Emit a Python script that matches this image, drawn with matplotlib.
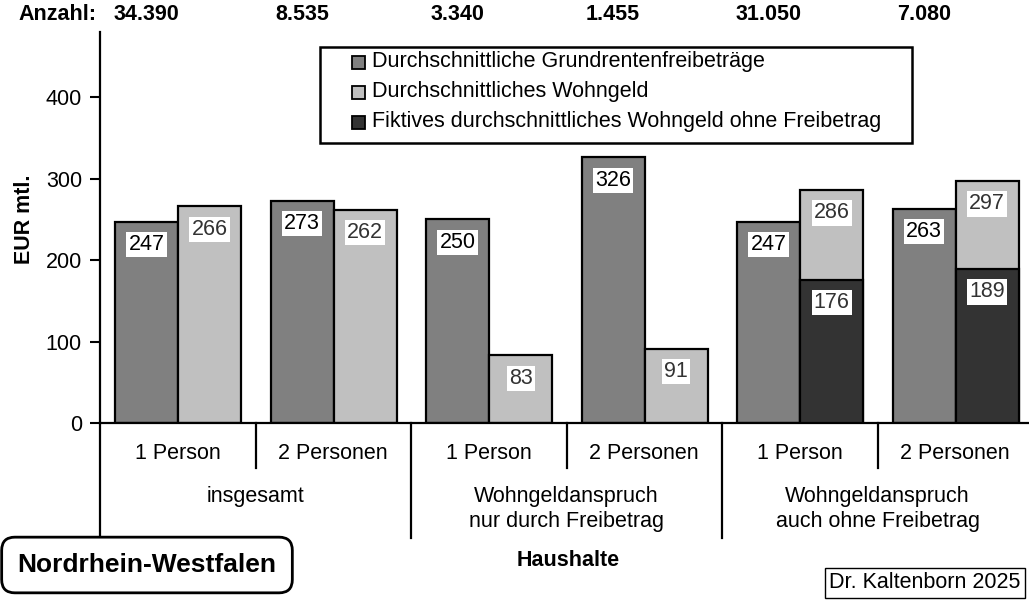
import numpy as np
import matplotlib.pyplot as plt
import matplotlib.transforms as mtransforms
from matplotlib.patches import Rectangle

plt.rcParams['font.family'] = ['Liberation Sans', 'DejaVu Sans']

# data
sub_labels = ['1 Person', '2 Personen'] * 3
group_labels = ['insgesamt', 'Wohngeldanspruch\nnur durch Freibetrag', 'Wohngeldanspruch\nauch ohne Freibetrag']
anzahl = ['34.390', '8.535', '3.340', '1.455', '31.050', '7.080']
grundrente = [247, 273, 250, 326, 247, 263]
wohngeld = [266, 262, 83, 91, 286, 297]
fiktiv = [np.nan, np.nan, np.nan, np.nan, 176, 189]

series_names = ['Durchschnittliche Grundrentenfreibeträge',
                'Durchschnittliches Wohngeld',
                'Fiktives durchschnittliches Wohngeld ohne Freibetrag']
colors = ['#808080', '#c0c0c0', '#333333']

W, H = 1029, 602
FS = 15.5


def fx(px):
    return px / W


def fy(py):
    return 1 - py / H


fig = plt.figure(figsize=(W / 100, H / 100), dpi=100)
ax = fig.add_axes([fx(100), fy(423), fx(933), 391 / H])

n = len(grundrente)
xs = np.arange(n)
bw = 0.405
x_dark = xs + 0.3
x_light = xs + 0.705

ax.bar(x_dark, grundrente, bw, color=colors[0], edgecolor='black', linewidth=1.6, zorder=2)
ax.bar(x_light, wohngeld, bw, color=colors[1], edgecolor='black', linewidth=1.6, zorder=2)
ax.bar(x_light, fiktiv, bw, color=colors[2], edgecolor='black', linewidth=1.6, zorder=3)


def label(x, v, color):
    if np.isnan(v):
        return
    ax.annotate(str(int(v)), xy=(x, v), xytext=(0, -16.5), textcoords='offset points',
                ha='center', va='center', fontsize=FS, color=color, zorder=5,
                bbox=dict(boxstyle='square,pad=0.1', fc='white', ec='none'))


for i in range(n):
    label(x_dark[i], grundrente[i], 'black')
    label(x_light[i], wohngeld[i], '#333333')
    label(x_light[i], fiktiv[i], '#333333')

ax.set_xlim(0, n)
ax.set_ylim(0, 480)
ax.set_yticks([0, 100, 200, 300, 400])
ax.tick_params(axis='y', direction='out', length=7, width=1.5, pad=6, labelsize=FS)
ax.set_xticks([])
for s in ['top', 'right']:
    ax.spines[s].set_visible(False)
for s in ['left', 'bottom']:
    ax.spines[s].set_linewidth(1.6)

# category axis below the bars
xt = ax.get_xaxis_transform()
for i in range(n + 1):
    depth = -0.294 if i % 2 == 0 else -0.115
    ax.plot([i, i], [0, depth], transform=xt, color='black', lw=1.6, clip_on=False)
for i in range(n):
    ax.text(i + 0.5, -0.077, sub_labels[i], transform=xt, ha='center', va='center', fontsize=FS)
for g, lab in enumerate(group_labels):
    ax.text(2 * g + 1, -0.162, lab, transform=xt, ha='center', va='top', fontsize=FS,
            linespacing=1.25)

fig.text(fx(568), fy(560), 'Haushalte', ha='center', va='center', fontsize=FS, fontweight='bold')
fig.text(fx(25), fy(219), 'EUR mtl.', ha='center', va='center', rotation=90,
         fontsize=FS, fontweight='bold')

# Anzahl row
fig.text(fx(18), fy(15), 'Anzahl:', ha='left', va='center', fontsize=FS, fontweight='bold')
top_tr = mtransforms.blended_transform_factory(ax.transData, fig.transFigure)
for i in range(n):
    ax.text(x_dark[i], fy(15), anzahl[i], transform=top_tr, ha='center', va='center',
            fontsize=FS, fontweight='bold', clip_on=False)

# legend box
fig.patches.append(Rectangle((fx(320), fy(143)), fx(912 - 320), (143 - 47) / H,
                             transform=fig.transFigure, fc='white', ec='black', lw=1.8, zorder=4))
for k, name in enumerate(series_names):
    yc = 62 + 30 * k
    fig.patches.append(Rectangle((fx(352), fy(yc + 6.5)), fx(13), 13 / H,
                                 transform=fig.transFigure, fc=colors[k], ec='black', lw=1.3, zorder=5))
    fig.text(fx(372), fy(yc), name, ha='left', va='center', fontsize=FS, zorder=6)

fig.text(fx(147), fy(565), 'Nordrhein-Westfalen', ha='center', va='center', fontsize=19,
         fontweight='bold', bbox=dict(boxstyle='round,pad=0.6,rounding_size=0.5', fc='white',
                                      ec='black', lw=2))
fig.text(fx(925), fy(583), 'Dr. Kaltenborn 2025', ha='center', va='center', fontsize=FS,
         bbox=dict(boxstyle='square,pad=0.22', fc='white', ec='black', lw=1))

fig.savefig('out.png', dpi=100)
